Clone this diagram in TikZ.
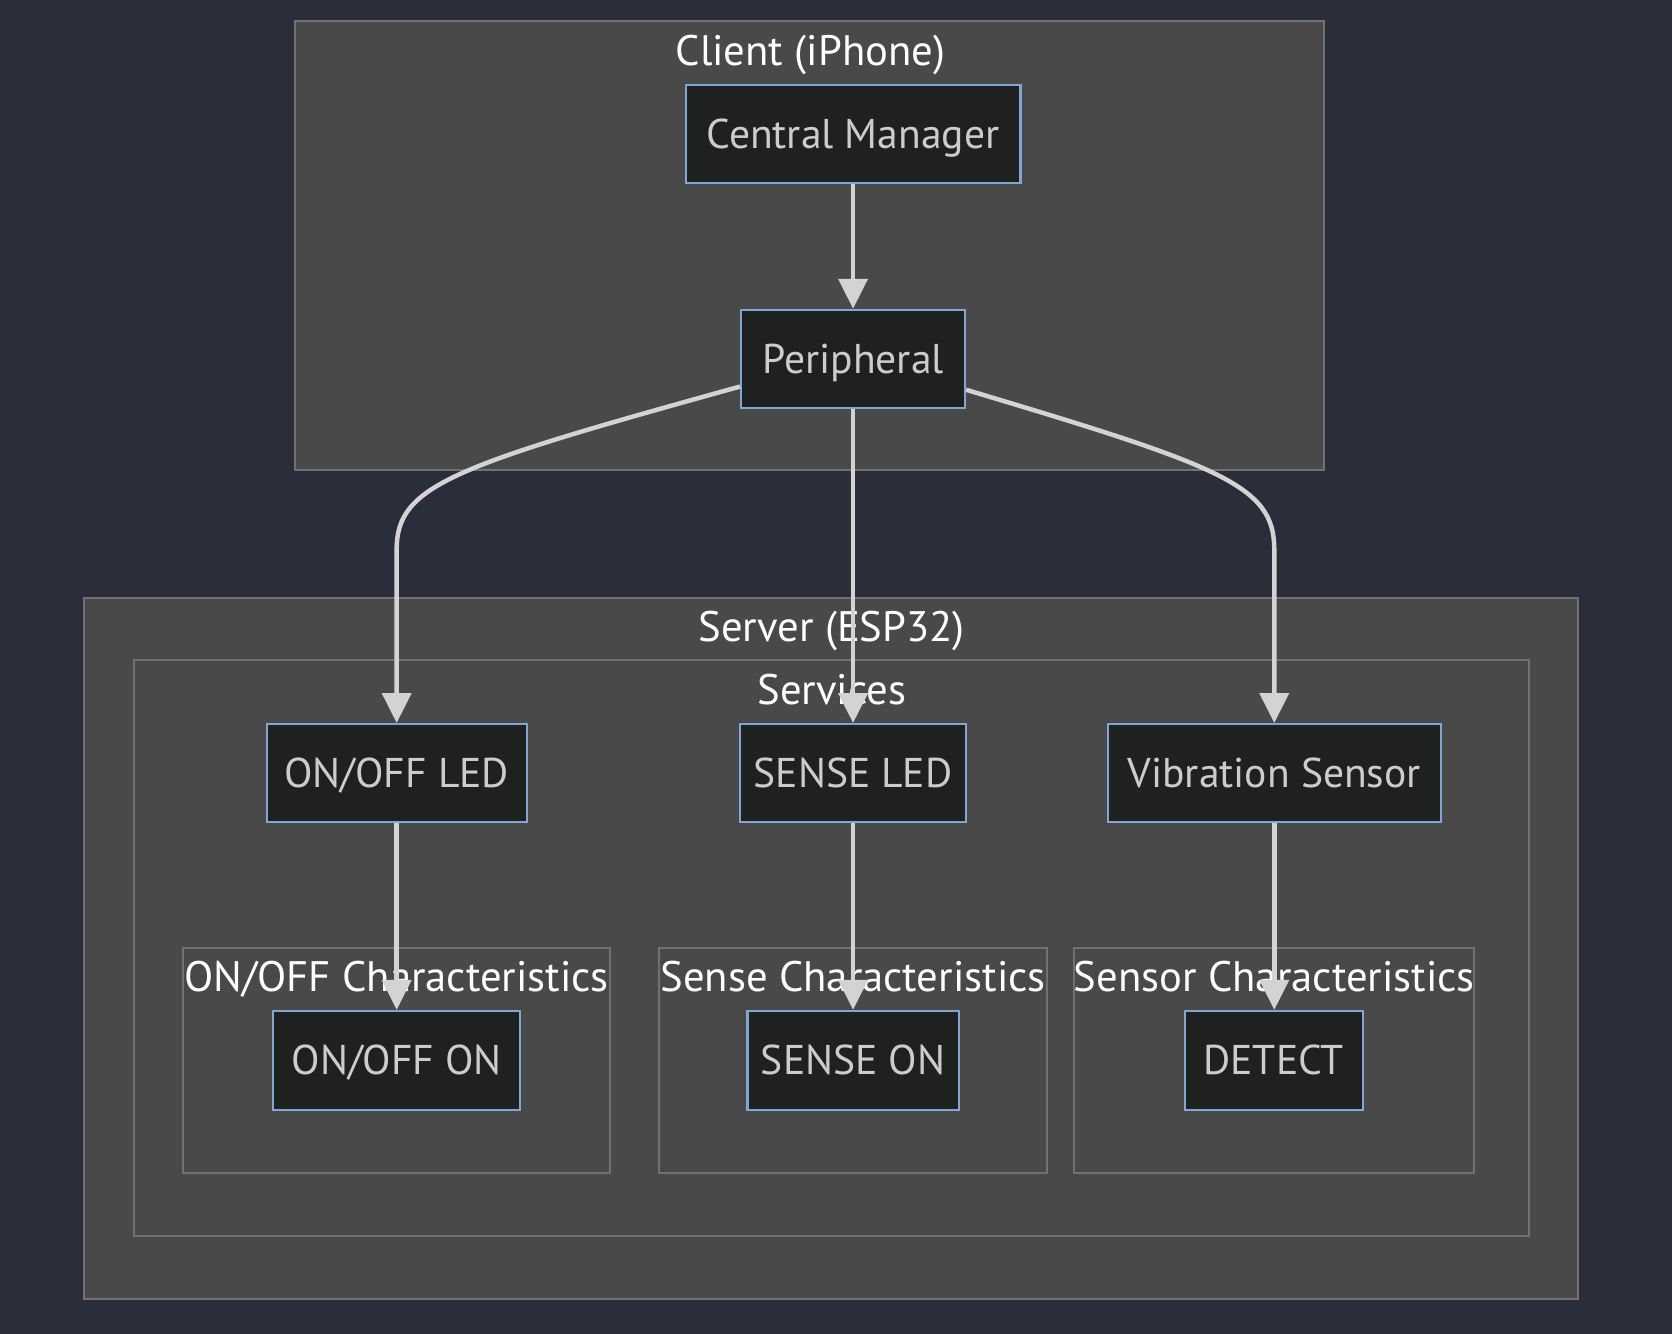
\documentclass[tikz,border=0pt]{standalone}
\usepackage{fontspec}
\setmainfont{PT Sans}
\usetikzlibrary{arrows.meta}
\definecolor{bgc}{RGB}{42,46,58}
\definecolor{clfill}{RGB}{72,73,72}
\definecolor{cldraw}{RGB}{112,113,112}
\definecolor{nfill}{RGB}{31,32,32}
\definecolor{ndraw}{RGB}{129,166,212}
\definecolor{ntext}{RGB}{204,204,204}
\definecolor{edgec}{RGB}{211,211,211}
\begin{document}
\begin{tikzpicture}[x=1pt,y=-1pt,
  cluster/.style={fill=clfill,draw=cldraw,line width=2pt},
  cltitle/.style={text=white,font=\fontsize{40}{44}\selectfont,inner sep=0pt,text height=28pt,text depth=1pt},
  nbox/.style={fill=nfill,draw=ndraw,line width=2pt,text=ntext,font=\fontsize{39}{43}\selectfont,minimum height=92pt,inner sep=0pt,text height=28pt,text depth=1pt},
  edge/.style={draw=edgec,line width=4.2pt,-{Triangle[length=28pt,width=27pt]}}]
\fill[bgc] (0,0) rectangle (1568,1251);
\useasboundingbox (0,0) rectangle (1568,1251);
% clusters
\draw[cluster] (277,20) rectangle (1242,441);
\node[cltitle] (tclient) at (760,47.5) {Client (iPhone)};
\draw[cluster] (79,561) rectangle (1480,1218);
\node[cltitle] (tserver) at (780,588) {Server (ESP32)};
\draw[cluster] (126,619) rectangle (1434,1159);
\node[cltitle] (tserv) at (780,647) {Services};
\draw[cluster] (172,889) rectangle (572,1100);
\node[cltitle] (tc1) at (372,916) {ON/OFF Characteristics};
\draw[cluster] (618,889) rectangle (982,1100);
\node[cltitle] (tc2) at (800,916) {Sense Characteristics};
\draw[cluster] (1007,889) rectangle (1382,1100);
\node[cltitle] (tc3) at (1195,916) {Sensor Characteristics};
% nodes
\node[nbox,minimum width=314pt] (cm) at (800,126) {Central Manager};
\node[nbox,minimum width=210pt] (per) at (800,336.5) {Peripheral};
\node[nbox,minimum width=244pt] (led) at (372,725) {ON/OFF LED};
\node[nbox,minimum width=212pt] (sled) at (800,725) {SENSE LED};
\node[nbox,minimum width=312pt] (vib) at (1195,725) {Vibration Sensor};
\node[nbox,minimum width=232pt,minimum height=93pt] (on) at (372,994.5) {ON/OFF ON};
\node[nbox,minimum width=198pt,minimum height=93pt] (son) at (800,994.5) {SENSE ON};
\node[nbox,minimum width=167pt,minimum height=93pt] (det) at (1194.5,994.5) {DETECT};
% edges
\draw[edge] (cm.south) -- (per.north);
\draw[edge] (per.south) -- (sled.north);
\draw[edge] ([yshift=-26pt]per.west) .. controls (425,437) and (372,455) .. (372,515) -- (led.north);
\draw[edge] ([yshift=-29pt]per.east) .. controls (1145,437) and (1195,455) .. (1195,515) -- (vib.north);
\draw[edge] (led.south) -- (on.north);
\draw[edge] (sled.south) -- (son.north);
\draw[edge] (vib.south) -- (det.north-|vib.south);
\end{tikzpicture}
\end{document}
